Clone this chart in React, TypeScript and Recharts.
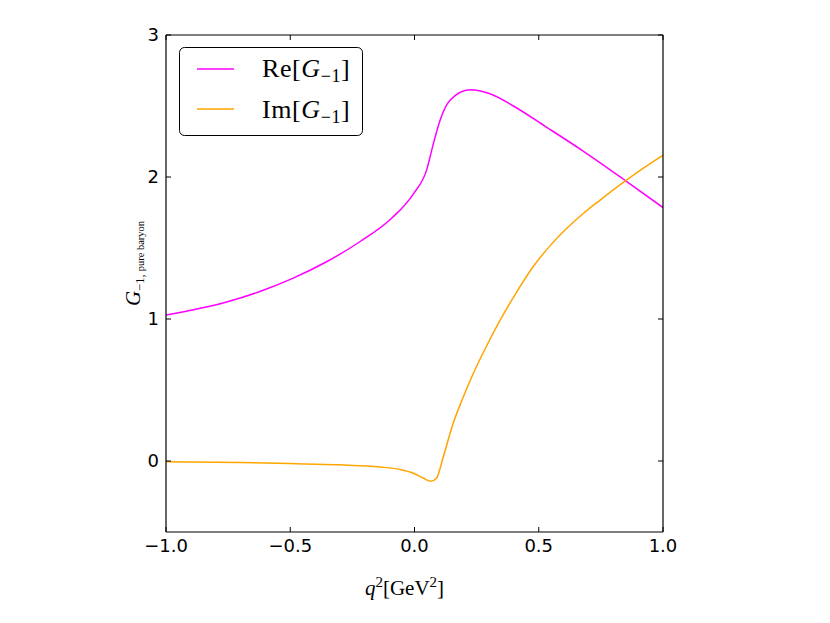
import { Legend, Line, LineChart, XAxis, YAxis } from 'recharts'

// values
const reQ2 = [-1.0, -0.756, -0.622, -0.488, -0.354, -0.22, -0.09, -0.005, 0.049, 0.076, 0.103, 0.143, 0.223, 0.304, 0.398, 0.532, 0.674, 0.847, 1.0]
const reValues = [1.028, 1.12, 1.194, 1.288, 1.403, 1.544, 1.713, 1.88, 2.05, 2.235, 2.4, 2.54, 2.614, 2.586, 2.5, 2.35, 2.188, 1.977, 1.785]

const imQ2 = [-1.0, -0.7, -0.5, -0.3, -0.139, -0.058, -0.005, 0.035, 0.066, 0.089, 0.116, 0.156, 0.197, 0.237, 0.29, 0.344, 0.411, 0.478, 0.545, 0.612, 0.679, 0.746, 0.843, 0.948, 1.0]
const imValues = [-0.005, -0.01, -0.018, -0.027, -0.042, -0.06, -0.086, -0.12, -0.143, -0.12, 0.03, 0.267, 0.454, 0.618, 0.81, 0.99, 1.19, 1.37, 1.515, 1.637, 1.743, 1.836, 1.965, 2.094, 2.152]

const xTicks = [-1.0, -0.5, 0.0, 0.5, 1.0]
const yTicks = [0, 1, 2, 3]

const reData = reQ2.map((q2, i) => ({ q2, value: reValues[i] }))
const imData = imQ2.map((q2, i) => ({ q2, value: imValues[i] }))

const MAGENTA = '#ff00ff'
const ORANGE = '#ffa500'
const SERIF = '"Liberation Serif", "DejaVu Serif", serif'
const tickFont = { fill: '#000', fontSize: 18, fontFamily: '"DejaVu Sans", sans-serif' }
const frame = { stroke: '#000', strokeWidth: 1.2 }

const fmtX = (v: number) => v.toFixed(1).replace('-', '\u2212')

function LegendBox() {
  const rows = [
    { color: MAGENTA, prefix: 'Re[' },
    { color: ORANGE, prefix: 'Im[' },
  ]
  return (
    <div style={{ width: 184, height: 89 }}>
      <svg width={184} height={89} style={{ display: 'block' }}>
        <rect x={0.5} y={0.5} width={183} height={88} rx={5} fill="#fff" stroke="#000" strokeWidth={1} />
        {rows.map((row, i) => (
          <g key={row.prefix}>
            <line x1={18} x2={55} y1={22 + i * 40} y2={22 + i * 40} stroke={row.color} strokeWidth={1.5} />
            <text x={83} y={30 + i * 41} fontFamily={SERIF} fontSize={26} letterSpacing={0.6} fill="#000">
              {row.prefix}
              <tspan fontStyle="italic">G</tspan>
              <tspan fontSize={18} dy={5}>{'\u22121'}</tspan>
              <tspan dy={-5}>]</tspan>
            </text>
          </g>
        ))}
      </svg>
    </div>
  )
}

function XLabel({ viewBox }: any) {
  const cx = viewBox.x + viewBox.width / 2 - 10
  return (
    <text x={cx} y={595} textAnchor="middle" fontFamily={SERIF} fontSize={21} fill="#000">
      <tspan fontStyle="italic">q</tspan>
      <tspan fontSize={15} dy={-8}>2</tspan>
      <tspan dy={8}>[GeV</tspan>
      <tspan fontSize={15} dy={-8}>2</tspan>
      <tspan dy={8}>]</tspan>
    </text>
  )
}

function YLabel({ viewBox }: any) {
  const cy = viewBox.y + viewBox.height / 2 - 20
  const x = 140
  return (
    <text x={x} y={cy} transform={`rotate(-90 ${x} ${cy})`} textAnchor="middle" fontFamily={SERIF} fontSize={21} fill="#000">
      <tspan fontStyle="italic">G</tspan>
      <tspan fontSize={12.5} dy={4}>{'\u22121, '}</tspan>
      <tspan fontSize={10.5}>pure baryon</tspan>
    </text>
  )
}

export default function App() {
  return (
    <div style={{ position: 'absolute', left: 0, top: 0, width: 830, height: 623, background: '#fff' }}>
      <LineChart width={830} height={623} margin={{ top: 34, right: 166, bottom: 61, left: 106 }}>
        <XAxis
          dataKey="q2"
          type="number"
          domain={[-1, 1]}
          ticks={xTicks}
          tickFormatter={fmtX}
          allowDataOverflow
          height={30}
          axisLine={frame}
          tickLine={{ stroke: '#000' }}
          tickSize={-5}
          tickMargin={12}
          tick={tickFont}
          label={<XLabel />}
        />
        <XAxis
          xAxisId="top"
          orientation="top"
          dataKey="q2"
          type="number"
          domain={[-1, 1]}
          ticks={xTicks}
          tickFormatter={() => ''}
          allowDataOverflow
          height={1}
          axisLine={frame}
          tickLine={{ stroke: '#000' }}
          tickSize={-5}
        />
        <YAxis
          type="number"
          domain={[-0.5, 3]}
          ticks={yTicks}
          allowDataOverflow
          width={60}
          axisLine={frame}
          tickLine={{ stroke: '#000' }}
          tickSize={-5}
          tickMargin={12}
          tick={tickFont}
          label={<YLabel />}
        />
        <YAxis
          yAxisId="right"
          orientation="right"
          type="number"
          domain={[-0.5, 3]}
          ticks={yTicks}
          tickFormatter={() => ''}
          allowDataOverflow
          width={1}
          axisLine={frame}
          tickLine={{ stroke: '#000' }}
          tickSize={-5}
        />
        <Legend
          verticalAlign="middle"
          align="center"
          content={<LegendBox />}
          wrapperStyle={{ top: 47, left: 179, width: 184, height: 89 }}
        />
        <Line data={reData} dataKey="value" name="Re" type="monotone" stroke={MAGENTA} strokeWidth={1.5} dot={false} isAnimationActive={false} />
        <Line data={imData} dataKey="value" name="Im" xAxisId="top" yAxisId="right" type="monotone" stroke={ORANGE} strokeWidth={1.5} dot={false} isAnimationActive={false} />
      </LineChart>
    </div>
  )
}
